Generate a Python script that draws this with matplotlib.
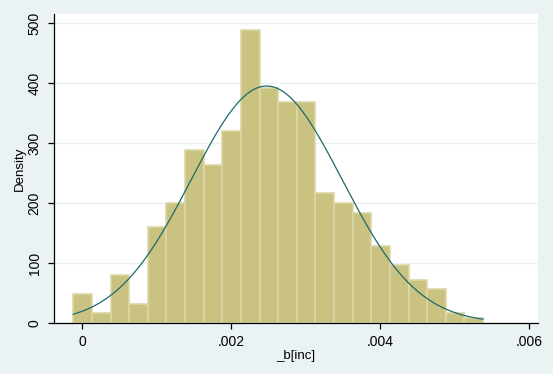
import numpy as np
import matplotlib
matplotlib.use("Agg")
import matplotlib.pyplot as plt

# ------------------------------------
# Data
# ------------------------------------
BIN_START = -0.000121        # left edge of first bin
BIN_WIDTH = 0.00025
density = [48, 16, 80, 32, 160, 200, 288, 264, 320, 488, 392,
           368, 368, 216, 200, 184, 128, 96, 72, 56, 16, 8]
norm_mean = 0.002475         # overlaid normal density
norm_sd = 0.00101

xticks = [0, 0.002, 0.004, 0.006]
xtick_labels = ["0", ".002", ".004", ".006"]
yticks = [0, 100, 200, 300, 400, 500]

# ------------------------------------
# Style
# ------------------------------------
BG = "#EAF2F3"
BAR = "#C9C281"
BAR_EDGE = "#DDD7A6"
LINE = "#1E6A6A"
plt.rcParams["font.family"] = ["Liberation Sans Narrow", "Liberation Sans", "DejaVu Sans"]

fig = plt.figure(figsize=(5.53, 3.74), dpi=100, facecolor=BG)
ax = fig.add_axes([54 / 553, 1 - 323 / 374, 484 / 553, 309 / 374])
ax.set_facecolor("white")

edges = BIN_START + BIN_WIDTH * np.arange(len(density) + 1)
ax.bar(edges[:-1], density, width=BIN_WIDTH, align="edge",
       color=BAR, edgecolor=BAR_EDGE, linewidth=1.2, zorder=2)

xs = np.linspace(edges[0], edges[-1], 300)
pdf = np.exp(-0.5 * ((xs - norm_mean) / norm_sd) ** 2) / (norm_sd * np.sqrt(2 * np.pi))
ax.plot(xs, pdf, color=LINE, linewidth=0.9, zorder=3)

ax.set_xlim(-0.00038, 0.006117)
ax.set_ylim(0, 515)
ax.set_xticks(xticks)
ax.set_xticklabels(xtick_labels)
ax.set_yticks(yticks)
ax.set_yticklabels([str(v) for v in yticks], rotation=90, va="center")

ax.grid(axis="y", color=BG, linewidth=1.0, zorder=0)
ax.set_axisbelow(True)
for s in ["top", "right"]:
    ax.spines[s].set_visible(False)
for s in ["left", "bottom"]:
    ax.spines[s].set_color("black")
    ax.spines[s].set_linewidth(0.9)

ax.tick_params(axis="both", direction="out", length=4, width=0.9,
               labelsize=10, pad=5, colors="black")

ax.set_ylabel("Density", fontsize=9.5, labelpad=1)
ax.set_xlabel("_b[inc]", fontsize=9.5, labelpad=0)

fig.savefig("out.png", dpi=100, facecolor=BG)
